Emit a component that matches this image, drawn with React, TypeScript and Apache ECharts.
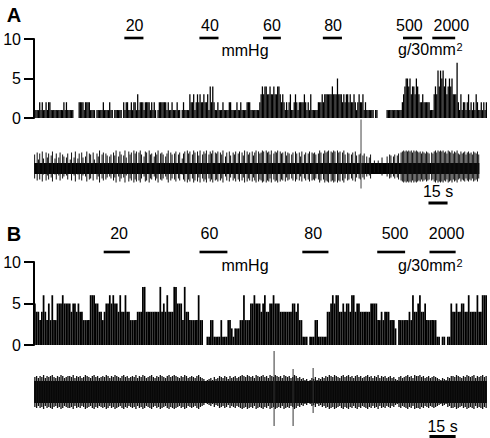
import React, { useEffect, useRef } from 'react';
import * as echarts from 'echarts';

const FONT = 'Liberation Sans, Arial, Helvetica, sans-serif';

// Panel A: spike counts per 1-s bin
const countsA = [
  1,1,1,1,2,1,2,1,1,2,
  1,2,2,1,1,1,1,1,1,1,
  1,1,1,2,1,2,1,1,1,1,
  1,0,0,0,0,2,2,2,2,1,
  2,2,2,2,1,1,1,1,0,1,
  1,1,1,1,2,1,1,1,1,2,
  1,1,0,1,1,1,1,1,1,0,
  2,1,2,2,1,1,2,1,2,2,
  1,3,1,2,2,2,1,2,2,2,
  2,1,2,1,2,1,0,1,2,2,
  2,2,2,2,1,2,1,1,2,1,
  1,1,2,1,1,0,1,2,1,1,
  1,1,3,2,2,3,1,2,3,2,
  3,2,2,3,2,2,3,1,4,2,
  4,2,1,1,2,1,1,1,2,1,
  1,1,1,2,2,1,1,1,1,2,
  1,1,2,1,1,1,1,2,2,2,
  1,1,1,1,1,1,1,2,3,4,
  3,4,4,3,3,4,3,3,4,3,
  3,4,4,3,2,3,2,1,2,1,
  2,3,1,1,2,3,2,1,2,2,
  2,2,3,2,1,2,1,3,1,1,
  1,1,1,2,2,2,3,2,3,3,
  3,3,3,3,4,3,3,3,5,3,
  3,3,2,3,2,3,3,2,3,2,
  2,3,2,1,2,3,2,2,3,1,
  2,1,1,1,1,1,1,0,1,1,
  0,0,0,0,0,0,0,1,1,1,
  1,1,1,1,1,1,1,1,1,2,
  3,4,5,5,4,5,3,4,4,3,
  5,4,3,2,2,3,2,2,2,2,
  2,1,1,1,3,4,3,6,4,6,
  5,6,4,5,3,4,5,4,5,3,
  3,3,7,2,1,3,1,2,2,1,
  2,3,1,2,1,2,1,3,2,1,
  1,2,1,2,1,2,
];

// Panel B: spike counts per 1-s bin
const countsB = [
  5,4,4,3,4,6,4,3,5,3,
  6,3,3,5,5,5,6,5,5,5,
  5,4,5,5,4,5,4,4,3,3,
  3,3,6,6,6,5,5,4,4,3,
  4,5,5,6,5,6,5,5,4,6,
  4,4,6,4,4,3,3,3,3,4,
  4,4,7,7,4,4,4,4,4,4,
  4,4,7,4,5,4,6,4,4,4,
  7,7,5,5,5,3,7,4,4,3,
  3,3,3,3,6,3,3,0,0,1,
  1,3,3,1,1,1,1,3,1,1,
  1,3,3,2,1,2,2,2,3,3,
  6,3,3,3,5,5,6,5,5,5,
  4,5,6,4,4,5,5,6,5,5,
  5,4,4,4,4,4,4,4,5,5,
  4,5,3,3,1,1,1,0,1,1,
  1,3,3,1,1,1,1,1,4,4,
  5,6,5,6,6,4,4,5,4,5,
  5,4,6,6,4,5,5,4,4,4,
  4,4,4,5,5,5,5,3,3,4,
  3,4,4,4,3,3,3,2,0,3,
  3,3,3,3,3,4,3,6,4,4,
  5,6,4,4,5,3,3,3,3,3,
  3,1,1,0,1,1,0,1,1,5,
  4,4,5,4,4,5,5,4,4,6,
  4,4,4,4,6,4,4,6,6,6,
];

// Raw recordings: largest spike excursion per 1-s bin (trace units; 0 = no spike above noise)
const traceA = [
  12,0,14,7,13,0,15,8,0,14,9,13,0,11,15,0,8,13,0,9,
  14,0,12,10,0,9,13,0,7,14,0,9,15,0,8,13,0,14,9,0,
  10,15,0,13,12,0,14,7,0,13,10,16,0,12,14,0,13,11,0,10,
  12,0,14,11,16,0,10,15,12,0,11,16,9,0,15,12,14,0,16,13,
  15,0,14,16,12,0,10,15,14,0,16,12,13,0,10,14,12,16,0,13,
  14,12,0,10,13,16,0,14,12,0,13,15,0,12,14,0,8,13,15,0,
  16,13,15,0,12,16,14,0,15,11,16,0,12,15,13,16,0,12,15,13,
  16,0,14,13,15,0,14,12,16,0,10,14,0,15,11,0,14,12,15,0,
  13,15,0,14,11,16,0,15,12,14,0,15,11,14,16,0,15,13,14,16,
  15,0,16,14,15,12,16,0,13,15,14,16,0,15,13,14,0,15,11,14,
  13,0,12,14,0,15,13,0,14,10,15,0,12,14,0,13,15,0,14,13,
  14,12,0,13,16,14,0,13,16,14,15,16,0,15,14,16,15,0,16,14,
  15,0,14,16,12,0,14,13,0,12,14,0,15,11,0,12,13,0,11,13,
  0,10,0,9,12,0,0,6,0,0,6,0,0,9,0,0,0,10,0,12,
  11,0,10,12,0,11,13,0,14,15,16,15,16,15,16,15,16,14,16,15,
  16,15,14,15,13,15,14,13,15,14,13,0,14,13,15,16,14,16,15,16,
  15,16,14,15,13,16,15,14,16,13,15,14,16,13,12,15,13,14,15,12,
  14,15,13,14,12,15,14,13,15,12,
];

const traceB = [
  15,16,14,16,15,17,14,16,15,16,17,15,14,16,15,17,16,14,15,16,
  16,15,17,14,16,15,16,14,15,17,16,15,14,16,17,15,16,14,15,16,
  15,17,16,14,16,15,17,16,15,14,16,17,15,16,14,15,16,15,17,14,
  16,15,17,16,14,15,16,17,15,14,16,15,17,16,15,14,16,17,15,16,
  17,16,15,14,16,15,17,16,14,15,16,15,14,16,17,15,14,13,11,12,
  13,14,12,15,13,14,16,15,14,16,15,13,16,14,15,16,14,15,16,17,
  16,15,17,16,15,16,14,17,16,15,16,17,15,16,14,17,16,15,17,16,
  15,16,14,17,16,15,16,14,15,17,16,14,15,13,14,12,13,11,12,14,
  13,15,12,14,13,15,14,16,15,17,16,15,17,16,15,14,16,17,15,16,
  17,15,16,14,16,17,15,16,14,15,16,17,15,16,14,16,15,17,14,16,
  15,16,14,15,16,14,15,13,12,15,16,14,15,16,17,15,16,14,17,16,
  16,17,15,16,14,15,16,14,15,16,15,14,13,12,14,13,12,15,14,16,
  16,15,17,16,15,14,16,15,17,16,15,16,17,14,16,15,16,17,15,16,
];

// Background noise half-width of each recording (trace units)
const noiseA = 5.5;
const noiseB = 11;

// Large artefacts: [time (s), upward extent, downward extent]
const artifactsA = [[257, 49, 20]];
const artifactsB = [[137.8, 41, 34], [148.7, 23, 34], [160.2, 24, 21]];

// Stimulus periods: [label, start (s), end (s), label centre (s)]
const stimA: [string, number, number, number][] = [
  ['20', 71, 86, 79], ['40', 130, 145, 138.3], ['60', 180, 194, 187], ['80', 227, 242, 235],
  ['500', 290, 305, 295], ['2000', 313, 331, 328],
];
const stimB: [string, number, number, number][] = [
  ['20', 40, 55, 48.8], ['60', 95, 111, 100.7], ['80', 154, 169, 160.2], ['500', 197, 213, 207.2],
  ['2000', 227, 242, 236.8],
];

// 15-s time scale bars: [start, end]
const scaleBarA = [310, 325];
const scaleBarB = [227, 242];
const scaleLabel = '15 s';

const pressureUnit = 'mmHg';
const weightUnit = 'g/30mm';

function txt(text: string, x: number, y: number, size: number, align = 'center', bold = false) {
  return {
    type: 'text', x, y, silent: true,
    style: {
      text, fill: '#000', font: `${bold ? 'bold ' : ''}${size}px ${FONT}`,
      align, textAlign: align, verticalAlign: 'middle', textVerticalAlign: 'middle',
    },
  };
}

const histRender = (params: any, api: any) => {
  const v = api.value(1);
  if (!(v > 0)) return null;
  const i = api.value(0);
  const a = api.coord([i, v]);
  const b = api.coord([i + 1, 0]);
  return { type: 'rect', shape: { x: a[0], y: a[1], width: b[0] - a[0], height: b[1] - a[1] }, style: { fill: '#000' } };
};

const stimRender = (stims: [string, number, number, number][], barLift: number, labelLift: number) => (params: any, api: any) => {
  const s = stims[params.dataIndex];
  const a = api.coord([s[1], 10]);
  const b = api.coord([s[2], 10]);
  const c = api.coord([s[3], 10]);
  const y = a[1] - barLift;
  return {
    type: 'group',
    children: [
      { type: 'line', shape: { x1: a[0], y1: y, x2: b[0], y2: y }, style: { stroke: '#000', lineWidth: 2.6 } },
      txt(s[0], c[0], y - labelLift, 16),
    ],
  };
};

// lift: vertical shift (px) of the spike waveforms relative to the noise band centre
const spikeRender = (color: string, width: number, lift: number) => (params: any, api: any) => {
  const i = api.value(0), amp = api.value(1);
  if (!(amp > 0)) return null;
  const a = api.coord([i + 0.5, amp]);
  const b = api.coord([i + 0.5, -amp]);
  return { type: 'line', shape: { x1: a[0], y1: a[1] - lift, x2: b[0], y2: b[1] - lift }, style: { stroke: color, lineWidth: width } };
};

const bandRender = (params: any, api: any) => {
  const a = api.coord([api.value(0), api.value(2)]);
  const b = api.coord([api.value(1), -api.value(2)]);
  return { type: 'rect', shape: { x: a[0], y: a[1], width: b[0] - a[0], height: b[1] - a[1] }, style: { fill: '#000' } };
};

const artifactRender = (color: string) => (params: any, api: any) => {
  const t = api.value(0);
  const a = api.coord([t, api.value(1)]);
  const b = api.coord([t, -api.value(2)]);
  return { type: 'line', shape: { x1: a[0], y1: a[1], x2: b[0], y2: b[1] }, style: { stroke: color, lineWidth: 1 } };
};

const scaleRender = (level: number, labelLift: number) => (params: any, api: any) => {
  const a = api.coord([api.value(0), level]);
  const b = api.coord([api.value(1), level]);
  return {
    type: 'group',
    children: [
      { type: 'line', shape: { x1: a[0], y1: a[1], x2: b[0], y2: b[1] }, style: { stroke: '#000', lineWidth: 3 } },
      txt(scaleLabel, (a[0] + b[0]) / 2, a[1] - labelLift, 16),
    ],
  };
};

export default function App() {
  const ref = useRef<HTMLDivElement>(null);
  useEffect(() => {
    if (!ref.current) return;
    const chart = echarts.init(ref.current, undefined, { renderer: 'svg' });
    const nA = countsA.length;
    const nB = countsB.length;
    const histY = (gridIndex: number) => ({
      type: 'value', gridIndex, min: 0, max: 10, interval: 5,
      axisLine: { show: true, lineStyle: { color: '#000', width: 2 } },
      axisTick: { show: true, length: 10, lineStyle: { color: '#000', width: 2 } },
      axisLabel: { color: '#000', fontSize: 16, fontFamily: FONT, margin: 13 },
      splitLine: { show: false },
    });
    const hiddenY = (gridIndex: number, r: number) => ({ type: 'value', gridIndex, min: -r, max: r, show: false });
    const hiddenX = (gridIndex: number, max: number) => ({ type: 'value', gridIndex, min: 0, max, show: false });
    const custom = (xi: number, renderItem: any, data: any[]) => ({
      type: 'custom', xAxisIndex: xi, yAxisIndex: xi, renderItem, data, clip: false, silent: true,
    });
    chart.setOption({
      animation: false,
      backgroundColor: '#fff',
      grid: [
        { left: 34, top: 39, width: 453, height: 79 },
        { left: 34, top: 118.5, width: 453, height: 100 },
        { left: 34, top: 262, width: 453, height: 83 },
        { left: 34, top: 347, width: 453, height: 90 },
      ],
      xAxis: [hiddenX(0, nA), hiddenX(1, nA), hiddenX(2, nB), hiddenX(3, nB)],
      yAxis: [histY(0), hiddenY(1, 50), histY(2), hiddenY(3, 45)],
      series: [
        custom(0, histRender, countsA.map((v, i) => [i, v])),
        custom(0, stimRender(stimA, 1, 12.5), stimA.map((s) => [s[1], s[2]])),
        custom(1, bandRender, [[0, traceA.length, noiseA]]),
        custom(1, spikeRender('#111', 1, 2), traceA.map((v, i) => [i, v])),
        custom(1, artifactRender('#444'), artifactsA),
        custom(1, scaleRender(-34.5, 12), [scaleBarA]),
        custom(2, histRender, countsB.map((v, i) => [i, v])),
        custom(2, stimRender(stimB, 10, 18.5), stimB.map((s) => [s[1], s[2]])),
        custom(3, bandRender, [[0, traceB.length, noiseB]]),
        custom(3, spikeRender('#111', 1.3, 0), traceB.map((v, i) => [i, v])),
        custom(3, artifactRender('#333'), artifactsB),
        custom(3, scaleRender(-44.5, 10.5), [scaleBarB]),
      ],
      graphic: [
        txt('A', 14, 15, 20, 'center', true),
        txt('B', 14, 234, 20, 'center', true),
        txt(pressureUnit, 245, 50, 16),
        txt(weightUnit, 398, 49.5, 16, 'left'),
        txt('2', 456.5, 47, 11, 'left'),
        txt(pressureUnit, 245, 265, 16),
        txt(weightUnit, 398, 265, 16, 'left'),
        txt('2', 456.5, 262.5, 11, 'left'),
      ],
    });
    return () => chart.dispose();
  }, []);
  return <div ref={ref} style={{ position: 'fixed', left: 0, top: 0, width: 490, height: 438 }} />;
}
